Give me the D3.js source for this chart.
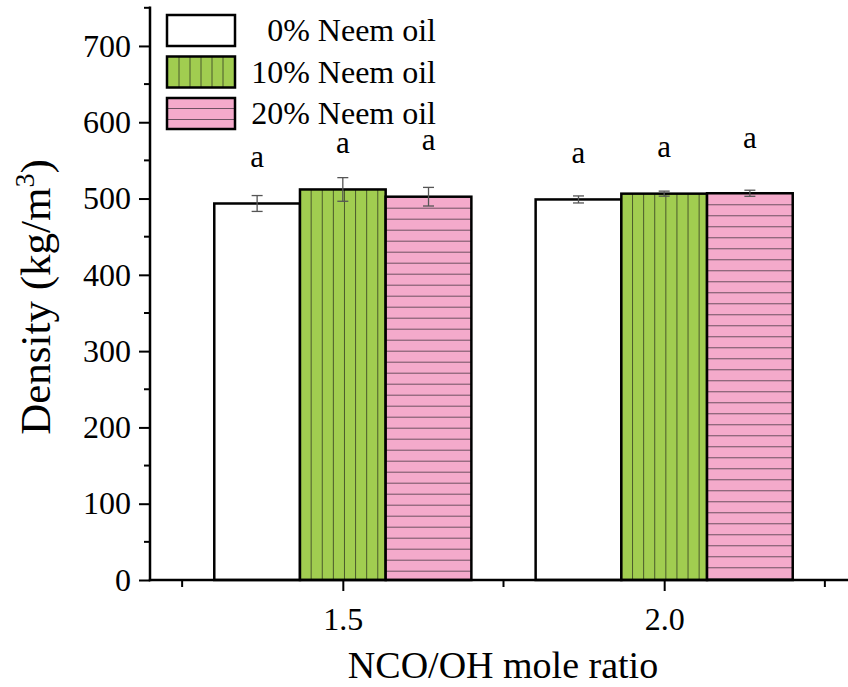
<!DOCTYPE html>
<html>
<head>
<meta charset="utf-8">
<script src="https://cdn.jsdelivr.net/npm/d3@7"></script>
<style>
  body { margin: 0; background: #fff; }
  svg text { font-family: "Liberation Serif", "Times New Roman", serif; fill: #000; }
</style>
</head>
<body>
<div id="chart"></div>
<script>
// data
var ratios = [1.5, 2.0]
var ratioLabels = ["1.5", "2.0"]
var seriesNames = ["0% Neem oil", "10% Neem oil", "20% Neem oil"]
var density = [
	[493.5, 498.8],   // 0%
	[511.9, 506.4],   // 10%
	[502.4, 506.9]    // 20%
]
var errors = [
	[10.4, 4.6],
	[15.5, 3.3],
	[12.2, 4.0]
]
var letters = [
	["a", "a"],
	["a", "a"],
	["a", "a"]
]
var letterAt = [
	[541, 547],
	[560, 554],
	[563, 566]
]
var yTicks = [0, 100, 200, 300, 400, 500, 600, 700]
var yMinor = [50, 150, 250, 350, 450, 550, 650, 750]
var xMinor = [1.25, 1.75, 2.25]

var width = 848, height = 687
var margin = { top: 7.8, left: 150, right: 0, bottom: 107 }

var svg = d3.select("#chart").append("svg")
	.attr("width", width)
	.attr("height", height)

var x = d3.scaleLinear().domain([1.2, 2.3]).range([150, 857])
var y = d3.scaleLinear().domain([0, 750]).range([580, 7.8])

var barW = 0.4 / 3
var fills = ["#ffffff", "#a1cd50", "#f4aacb"]

// bars
seriesNames.forEach(function(name, s) {
	var g = svg.append("g").attr("class", "series s" + s)
	ratios.forEach(function(r, i) {
		var x0 = x(r - 0.2 + s * barW), x1 = x(r - 0.2 + (s + 1) * barW)
		var top = y(density[s][i]), bot = y(0)
		g.append("rect")
			.attr("x", x0).attr("y", top)
			.attr("width", x1 - x0).attr("height", bot - top)
			.attr("fill", fills[s])
		if (s == 1) {
			d3.range(x0 + 11.2, x1 - 2, 11.1).forEach(function(lx) {
				g.append("line").attr("x1", lx).attr("x2", lx).attr("y1", top).attr("y2", bot)
					.attr("stroke", "#4b5a2c").attr("stroke-width", 1)
			})
		}
		if (s == 2) {
			d3.range(top + 11.5, bot - 1, 11).forEach(function(ly) {
				g.append("line").attr("x1", x0).attr("x2", x1).attr("y1", ly).attr("y2", ly)
					.attr("stroke", "#6e5262").attr("stroke-width", 1)
			})
		}
		g.append("rect")
			.attr("x", x0).attr("y", top)
			.attr("width", x1 - x0).attr("height", bot - top)
			.attr("fill", "none").attr("stroke", "#000").attr("stroke-width", 2.5)
	})
})

// error bars + letters
seriesNames.forEach(function(name, s) {
	ratios.forEach(function(r, i) {
		var cx = x(r - 0.2 + (s + 0.5) * barW)
		var hi = y(density[s][i] + errors[s][i]), lo = y(density[s][i] - errors[s][i])
		var eb = svg.append("g").attr("stroke", "#555").attr("stroke-width", 1.3)
		eb.append("line").attr("x1", cx).attr("x2", cx).attr("y1", hi).attr("y2", lo)
		eb.append("line").attr("x1", cx - 5.5).attr("x2", cx + 5.5).attr("y1", hi).attr("y2", hi)
		eb.append("line").attr("x1", cx - 5.5).attr("x2", cx + 5.5).attr("y1", lo).attr("y2", lo)
		svg.append("text")
			.attr("x", cx).attr("y", y(letterAt[s][i]))
			.attr("text-anchor", "middle")
			.style("font-size", "31px")
			.text(letters[s][i])
	})
})

// y axis
var yAxis = svg.append("g").attr("transform", "translate(150,0)")
	.call(d3.axisLeft(y).tickValues(yTicks).tickSize(11).tickPadding(8).tickFormat(d3.format("d")))
yAxis.select(".domain").remove()
yAxis.selectAll(".tick line").attr("stroke-width", 2)
yAxis.selectAll("text").style("font-size", "32px")
yAxis.selectAll(".minor").data(yMinor).enter().append("line")
	.attr("x1", -6).attr("x2", 0).attr("y1", d => y(d)).attr("y2", d => y(d))
	.attr("stroke", "#000").attr("stroke-width", 2)

// x axis
var xAxis = svg.append("g").attr("transform", "translate(0,580)")
	.call(d3.axisBottom(x).tickValues(ratios).tickSize(11).tickPadding(16)
		.tickFormat(function(d, i) { return ratioLabels[i] }))
xAxis.select(".domain").remove()
xAxis.selectAll(".tick line").attr("stroke-width", 2)
xAxis.selectAll("text").style("font-size", "32px")
xAxis.selectAll(".minor").data(xMinor).enter().append("line")
	.attr("x1", d => x(d)).attr("x2", d => x(d)).attr("y1", 0).attr("y2", 7)
	.attr("stroke", "#000").attr("stroke-width", 2)

// axis lines
svg.append("line").attr("x1", 150).attr("x2", 150).attr("y1", 6.5).attr("y2", 581.3)
	.attr("stroke", "#000").attr("stroke-width", 2.5)
svg.append("line").attr("x1", 148.8).attr("x2", 848).attr("y1", 580).attr("y2", 580)
	.attr("stroke", "#000").attr("stroke-width", 2.5)

// titles
svg.append("text")
	.attr("x", 503).attr("y", 678)
	.attr("text-anchor", "middle")
	.style("font-size", "38px")
	.text("NCO/OH mole ratio")

var yt = svg.append("text")
	.attr("transform", "translate(50,297) rotate(-90)")
	.attr("text-anchor", "middle")
	.style("font-size", "43px")
yt.append("tspan").text("Density (kg/m")
yt.append("tspan").attr("dy", -16).style("font-size", "28px").text("3")
yt.append("tspan").attr("dy", 16).text(")")

// legend
var legend = svg.append("g")
seriesNames.forEach(function(name, s) {
	var ly = 15 + s * 41.5, lx = 167, lw = 68, lh = 31
	legend.append("rect").attr("x", lx).attr("y", ly).attr("width", lw).attr("height", lh)
		.attr("fill", fills[s])
	if (s == 1) {
		d3.range(lx + 12, lx + lw - 2, 11).forEach(function(vx) {
			legend.append("line").attr("x1", vx).attr("x2", vx).attr("y1", ly).attr("y2", ly + lh)
				.attr("stroke", "#4b5a2c").attr("stroke-width", 1)
		})
	}
	if (s == 2) {
		d3.range(ly + 10.5, ly + lh - 2, 11).forEach(function(hy) {
			legend.append("line").attr("x1", lx).attr("x2", lx + lw).attr("y1", hy).attr("y2", hy)
				.attr("stroke", "#6e5262").attr("stroke-width", 1)
		})
	}
	legend.append("rect").attr("x", lx).attr("y", ly).attr("width", lw).attr("height", lh)
		.attr("fill", "none").attr("stroke", "#000").attr("stroke-width", 2.5)
	legend.append("text")
		.attr("x", 436).attr("y", ly + lh / 2 + 10.5)
		.attr("text-anchor", "end")
		.style("font-size", "32px")
		.text(name)
})
</script>
</body>
</html>
